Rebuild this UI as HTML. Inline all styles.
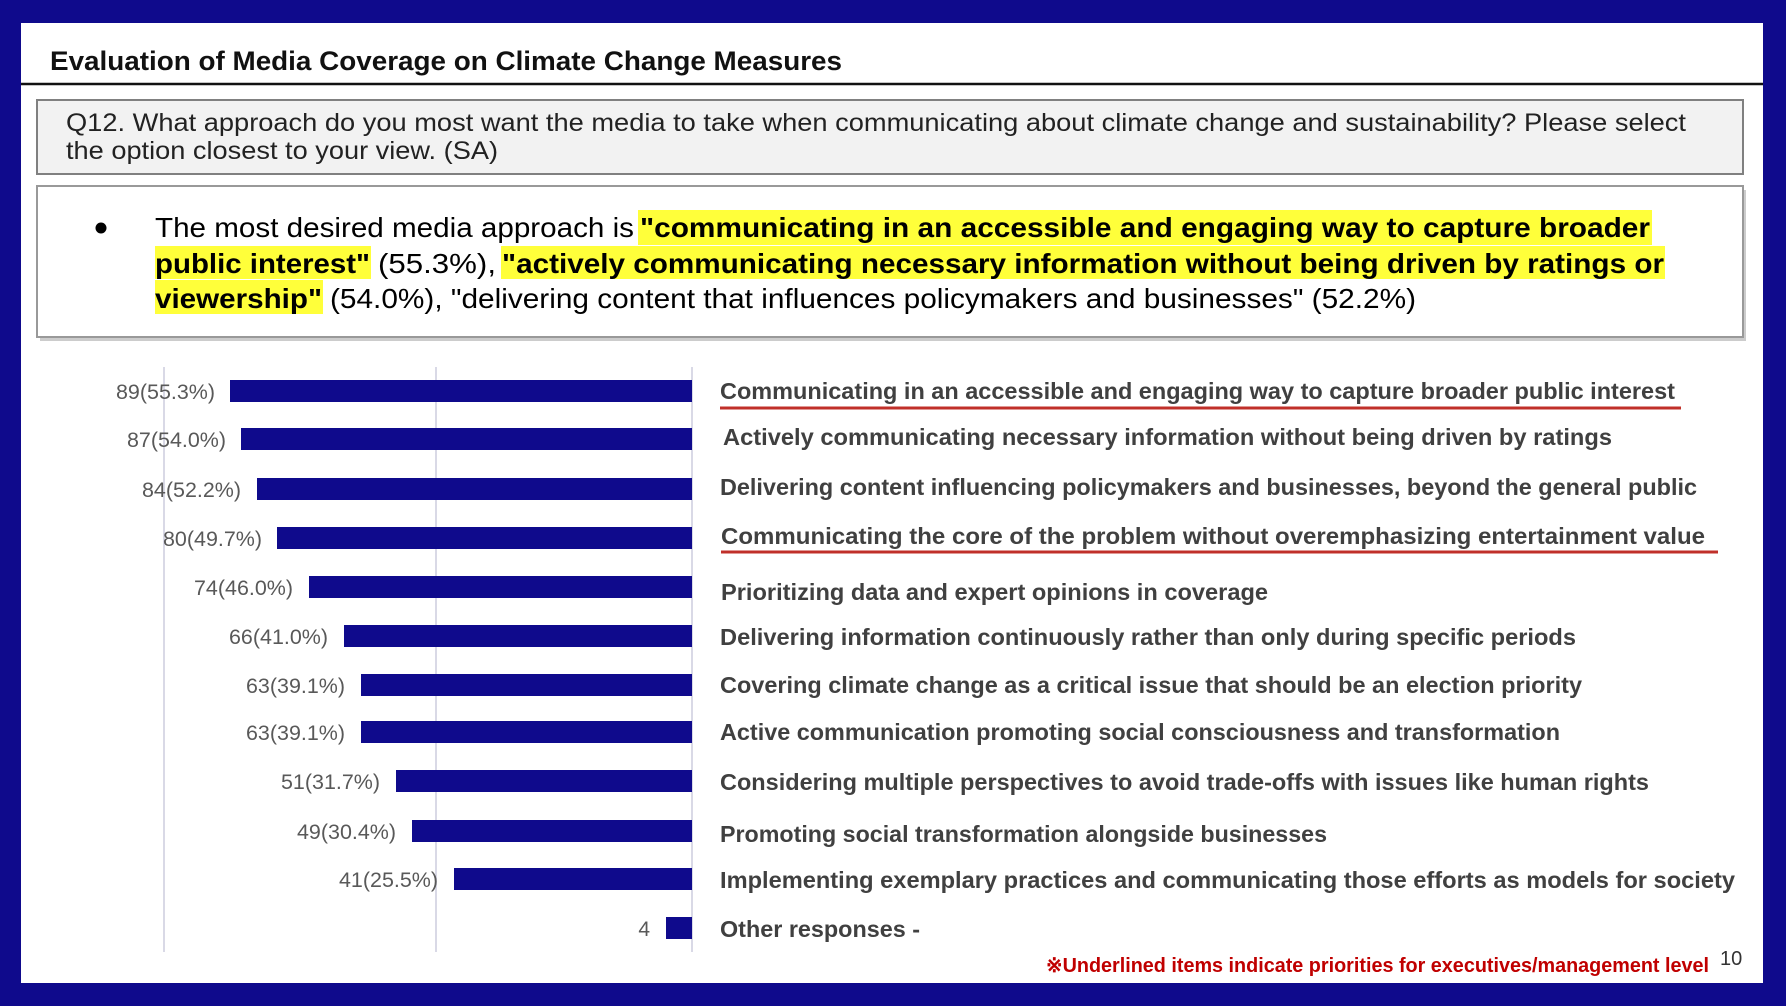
<!DOCTYPE html>
<html><head><meta charset="utf-8"><style>
html,body{margin:0;padding:0;background:#0f0a8c;}
svg{display:block}
</style></head><body>
<svg width="1786" height="1006" viewBox="0 0 1786 1006" xmlns="http://www.w3.org/2000/svg" font-family="Liberation Sans, sans-serif">
<rect x="0" y="0" width="1786" height="1006" fill="#0f0a8c"/>
<rect x="21" y="23" width="1742" height="960" fill="#ffffff"/>
<text x="50" y="70" font-size="27" font-weight="bold" fill="#111" textLength="792" lengthAdjust="spacingAndGlyphs">Evaluation of Media Coverage on Climate Change Measures</text>
<line x1="21" y1="84" x2="1763" y2="84" stroke="#111" stroke-width="2.5"/>
<rect x="37" y="100" width="1706" height="74" fill="#f2f2f2" stroke="#808080" stroke-width="2"/>
<text x="66" y="131" font-size="25" fill="#222" textLength="1620" lengthAdjust="spacingAndGlyphs">Q12. What approach do you most want the media to take when communicating about climate change and sustainability? Please select</text>
<text x="66" y="159" font-size="25" fill="#222" textLength="432" lengthAdjust="spacingAndGlyphs">the option closest to your view. (SA)</text>
<rect x="40" y="190" width="1706" height="151" fill="#999" opacity="0.5"/>
<rect x="37" y="186" width="1706" height="151" fill="#fff" stroke="#999" stroke-width="2"/>
<circle cx="101" cy="228" r="5.5" fill="#000"/>
<rect x="638" y="210" width="1014" height="35" fill="#ffff3a"/>
<rect x="155" y="246" width="216" height="33" fill="#ffff3a"/>
<rect x="501" y="246" width="1164" height="33" fill="#ffff3a"/>
<rect x="155" y="280" width="168" height="34" fill="#ffff3a"/>
<g font-size="28" fill="#000">
<text x="155" y="237" textLength="479" lengthAdjust="spacingAndGlyphs">The most desired media approach is</text>
<text x="640" y="237" font-weight="bold" textLength="1010" lengthAdjust="spacingAndGlyphs">"communicating in an accessible and engaging way to capture broader</text>
<text x="155" y="273" font-weight="bold" textLength="215" lengthAdjust="spacingAndGlyphs">public interest"</text>
<text x="378" y="273" textLength="118" lengthAdjust="spacingAndGlyphs">(55.3%),</text>
<text x="502" y="273" font-weight="bold" textLength="1162" lengthAdjust="spacingAndGlyphs">"actively communicating necessary information without being driven by ratings or</text>
<text x="155" y="308" font-weight="bold" textLength="167" lengthAdjust="spacingAndGlyphs">viewership"</text>
<text x="330" y="308" textLength="1086" lengthAdjust="spacingAndGlyphs">(54.0%), "delivering content that influences policymakers and businesses" (52.2%)</text>
</g>
<g stroke="#d9d9e6" stroke-width="2">
<line x1="164" y1="367" x2="164" y2="952"/>
<line x1="436" y1="367" x2="436" y2="952"/>
<line x1="692" y1="367" x2="692" y2="952"/>
</g>
<g fill="#0f0a8c">
<rect x="230" y="380" width="462" height="22"/>
<rect x="241" y="428" width="451" height="22"/>
<rect x="257" y="478" width="435" height="22"/>
<rect x="277" y="527" width="415" height="22"/>
<rect x="309" y="576" width="383" height="22"/>
<rect x="344" y="625" width="348" height="22"/>
<rect x="361" y="674" width="331" height="22"/>
<rect x="361" y="721" width="331" height="22"/>
<rect x="396" y="770" width="296" height="22"/>
<rect x="412" y="820" width="280" height="22"/>
<rect x="454" y="868" width="238" height="22"/>
<rect x="666" y="917" width="26" height="22"/>
</g>
<g font-size="21" fill="#595959" text-anchor="end">
<text x="215" y="399" textLength="99" lengthAdjust="spacingAndGlyphs">89(55.3%)</text>
<text x="226" y="447" textLength="99" lengthAdjust="spacingAndGlyphs">87(54.0%)</text>
<text x="241" y="497" textLength="99" lengthAdjust="spacingAndGlyphs">84(52.2%)</text>
<text x="262" y="546" textLength="99" lengthAdjust="spacingAndGlyphs">80(49.7%)</text>
<text x="293" y="595" textLength="99" lengthAdjust="spacingAndGlyphs">74(46.0%)</text>
<text x="328" y="644" textLength="99" lengthAdjust="spacingAndGlyphs">66(41.0%)</text>
<text x="345" y="693" textLength="99" lengthAdjust="spacingAndGlyphs">63(39.1%)</text>
<text x="345" y="740" textLength="99" lengthAdjust="spacingAndGlyphs">63(39.1%)</text>
<text x="380" y="789" textLength="99" lengthAdjust="spacingAndGlyphs">51(31.7%)</text>
<text x="396" y="839" textLength="99" lengthAdjust="spacingAndGlyphs">49(30.4%)</text>
<text x="438" y="887" textLength="99" lengthAdjust="spacingAndGlyphs">41(25.5%)</text>
<text x="650" y="936">4</text>
</g>
<g font-size="23" font-weight="bold" fill="#404040">
<text x="720" y="399" textLength="955" lengthAdjust="spacingAndGlyphs">Communicating in an accessible and engaging way to capture broader public interest</text>
<text x="723" y="445" textLength="889" lengthAdjust="spacingAndGlyphs">Actively communicating necessary information without being driven by ratings</text>
<text x="720" y="495" textLength="977" lengthAdjust="spacingAndGlyphs">Delivering content influencing policymakers and businesses, beyond the general public</text>
<text x="721" y="544" textLength="984" lengthAdjust="spacingAndGlyphs">Communicating the core of the problem without overemphasizing entertainment value</text>
<text x="721" y="600" textLength="547" lengthAdjust="spacingAndGlyphs">Prioritizing data and expert opinions in coverage</text>
<text x="720" y="645" textLength="856" lengthAdjust="spacingAndGlyphs">Delivering information continuously rather than only during specific periods</text>
<text x="720" y="693" textLength="862" lengthAdjust="spacingAndGlyphs">Covering climate change as a critical issue that should be an election priority</text>
<text x="720" y="740" textLength="840" lengthAdjust="spacingAndGlyphs">Active communication promoting social consciousness and transformation</text>
<text x="720" y="790" textLength="929" lengthAdjust="spacingAndGlyphs">Considering multiple perspectives to avoid trade-offs with issues like human rights</text>
<text x="720" y="842" textLength="607" lengthAdjust="spacingAndGlyphs">Promoting social transformation alongside businesses</text>
<text x="720" y="888" textLength="1015" lengthAdjust="spacingAndGlyphs">Implementing exemplary practices and communicating those efforts as models for society</text>
<text x="720" y="937" textLength="200" lengthAdjust="spacingAndGlyphs">Other responses -</text>
</g>
<line x1="720" y1="408" x2="1681" y2="408" stroke="#c0302a" stroke-width="3"/>
<line x1="721" y1="552" x2="1718" y2="552" stroke="#c0302a" stroke-width="3"/>
<text x="1046" y="972" font-size="20" font-weight="bold" fill="#c00000" textLength="663" lengthAdjust="spacingAndGlyphs">※Underlined items indicate priorities for executives/management level</text>
<text x="1720" y="965" font-size="20" fill="#333">10</text>
</svg>
</body></html>
